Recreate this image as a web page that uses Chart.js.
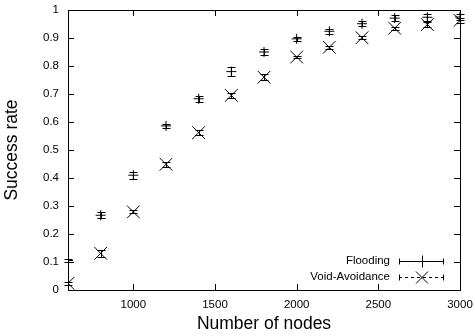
<!DOCTYPE html>
<html lang="en">
<head>
  <meta charset="UTF-8" />
  <title>Success rate vs number of nodes</title>
  <script src="https://cdn.jsdelivr.net/npm/chart.js"></script>
  <style>
    * { margin: 0; padding: 0; box-sizing: border-box; }
    body { background: #fff; width: 475px; height: 336px; overflow: hidden; }
    canvas { display: block; }
  </style>
</head>
<body>

<canvas id="rateChart" width="475" height="336"></canvas>

<script>
  // values
  const nodes = [600, 800, 1000, 1200, 1400, 1600, 1800, 2000, 2200, 2400, 2600, 2800, 3000];
  const flooding = [0.105, 0.267, 0.41, 0.586, 0.683, 0.78, 0.85, 0.897, 0.924, 0.951, 0.971, 0.974, 0.975];
  const floodingErr = [0.005, 0.01, 0.012, 0.008, 0.01, 0.015, 0.01, 0.008, 0.008, 0.008, 0.01, 0.012, 0.01];
  const voidAvoid = [0.024, 0.131, 0.279, 0.449, 0.562, 0.695, 0.76, 0.832, 0.867, 0.901, 0.935, 0.948, 0.963];
  const voidErr = [0.005, 0.012, 0.005, 0.008, 0.008, 0.008, 0.01, 0.005, 0.005, 0.005, 0.005, 0.008, 0.008];
  const xTicks = [1000, 1500, 2000, 2500, 3000];
  const yTicks = [0, 0.1, 0.2, 0.3, 0.4, 0.5, 0.6, 0.7, 0.8, 0.9, 1];
  const seriesNames = ['Flooding', 'Void-Avoidance'];

  const FONT = 'Liberation Sans, Arial, sans-serif';

  function toPoints(ys, errs) {
    return nodes.map((x, i) => ({ x: x, y: ys[i], err: errs[i] }));
  }

  // gnuplot style frame, inward ticks, error bars and the key
  const gnuplotLook = {
    id: 'gnuplotLook',
    beforeDatasetsDraw(chart) {
      const ctx = chart.ctx;
      const xs = chart.scales.x, ys = chart.scales.y;
      ctx.save();
      ctx.strokeStyle = '#000';
      ctx.lineWidth = 1;
      chart.data.datasets.forEach(ds => {
        ds.data.forEach(p => {
          const px = Math.round(xs.getPixelForValue(p.x)) + 0.5;
          const top = Math.round(ys.getPixelForValue(p.y + p.err)) + 0.5;
          const bot = Math.round(ys.getPixelForValue(p.y - p.err)) + 0.5;
          ctx.beginPath();
          ctx.moveTo(px, top); ctx.lineTo(px, bot);
          ctx.moveTo(px - 4, top); ctx.lineTo(px + 4, top);
          ctx.moveTo(px - 4, bot); ctx.lineTo(px + 4, bot);
          ctx.stroke();
        });
      });
      ctx.restore();
    },
    afterDraw(chart) {
      const ctx = chart.ctx;
      const a = chart.chartArea;
      const xs = chart.scales.x, ys = chart.scales.y;
      ctx.save();
      ctx.strokeStyle = '#000';
      ctx.lineWidth = 1;
      ctx.strokeRect(Math.round(a.left) + 0.5, Math.round(a.top) + 0.5,
        Math.round(a.right - a.left), Math.round(a.bottom - a.top));

      ctx.beginPath();
      xTicks.forEach(v => {
        const px = Math.round(xs.getPixelForValue(v)) + 0.5;
        ctx.moveTo(px, a.bottom); ctx.lineTo(px, a.bottom - 6);
        ctx.moveTo(px, a.top); ctx.lineTo(px, a.top + 6);
      });
      yTicks.forEach(v => {
        const py = Math.round(ys.getPixelForValue(v)) + 0.5;
        ctx.moveTo(a.left, py); ctx.lineTo(a.left + 6, py);
        ctx.moveTo(a.right, py); ctx.lineTo(a.right - 6, py);
      });
      ctx.stroke();

      // key, bottom right inside the plot
      ctx.font = '11.5px ' + FONT;
      ctx.fillStyle = '#000';
      ctx.textAlign = 'right';
      ctx.textBaseline = 'middle';
      const rows = [261, 277];
      chart.data.datasets.forEach((ds, i) => {
        const y = rows[i] + 0.5;
        ctx.fillText(ds.label, 390, rows[i]);
        ctx.setLineDash(i === 1 ? [3, 3] : []);
        ctx.beginPath();
        ctx.moveTo(399, y); ctx.lineTo(444, y);
        ctx.stroke();
        ctx.setLineDash([]);
        ctx.beginPath();
        ctx.moveTo(399.5, y - 3); ctx.lineTo(399.5, y + 3);
        ctx.moveTo(443.5, y - 3); ctx.lineTo(443.5, y + 3);
        if (i === 0) {
          ctx.moveTo(422.5, y - 6); ctx.lineTo(422.5, y + 6);
          ctx.moveTo(417, y); ctx.lineTo(428, y);
        } else {
          ctx.moveTo(416, y - 6); ctx.lineTo(428, y + 6);
          ctx.moveTo(416, y + 6); ctx.lineTo(428, y - 6);
        }
        ctx.stroke();
      });
      ctx.restore();
    }
  };

  new Chart(document.getElementById('rateChart'), {
    type: 'scatter',
    data: {
      datasets: [
        {
          label: seriesNames[0],
          data: toPoints(flooding, floodingErr),
          pointStyle: 'cross',
          pointRadius: 5,
          pointBorderWidth: 1,
          borderColor: '#000',
          backgroundColor: '#000',
          showLine: false
        },
        {
          label: seriesNames[1],
          data: toPoints(voidAvoid, voidErr),
          pointStyle: 'crossRot',
          pointRadius: 9,
          pointBorderWidth: 1,
          borderColor: '#000',
          backgroundColor: '#000',
          showLine: false
        }
      ]
    },
    options: {
      responsive: false,
      animation: false,
      devicePixelRatio: 1,
      layout: { padding: { top: 9, right: 15, left: 0, bottom: 0 } },
      plugins: {
        legend: { display: false },
        tooltip: { enabled: false }
      },
      scales: {
        x: {
          type: 'linear',
          min: 600,
          max: 3000,
          afterBuildTicks: s => { s.ticks = xTicks.map(v => ({ value: v })); },
          afterFit: s => { s.height = 46; s.paddingLeft = 0; s.paddingRight = 0; },
          grid: { display: false, drawTicks: false },
          border: { display: false },
          ticks: {
            color: '#000', padding: 8, maxRotation: 0, autoSkip: false,
            font: { family: FONT, size: 11.5 },
            callback: v => String(v)
          },
          title: {
            display: true,
            text: 'Number of nodes',
            color: '#000',
            padding: { top: 0, bottom: 1 },
            font: { family: FONT, size: 17.5 }
          }
        },
        y: {
          min: 0,
          max: 1,
          afterBuildTicks: s => { s.ticks = yTicks.map(v => ({ value: v })); },
          afterFit: s => { s.width = 68; s.paddingTop = 0; s.paddingBottom = 0; },
          grid: { display: false, drawTicks: false },
          border: { display: false },
          ticks: {
            color: '#000', padding: 9, autoSkip: false,
            font: { family: FONT, size: 11.5 },
            callback: v => String(v)
          },
          title: {
            display: true,
            text: 'Success rate',
            color: '#000',
            padding: { top: 2, bottom: 0 },
            font: { family: FONT, size: 17.5 }
          }
        }
      }
    },
    plugins: [gnuplotLook]
  });
</script>

</body>
</html>
